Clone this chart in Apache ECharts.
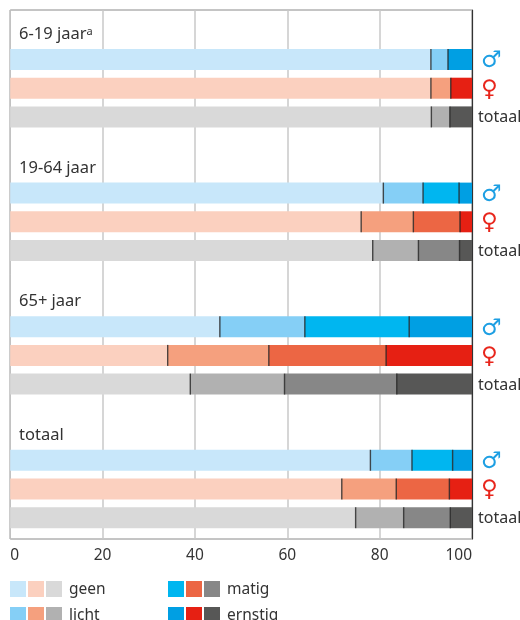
<!DOCTYPE html>
<html><head><meta charset="utf-8">
<style>html,body{margin:0;padding:0;background:#fff;overflow:hidden}#c{width:520px;height:620px}</style>
<script src="https://cdn.jsdelivr.net/npm/echarts@6/dist/echarts.min.js"></script>
</head><body><div id="c"></div>
<script>
const groups = ['6-19 jaar{sup|a}', '19-64 jaar', '65+ jaar', 'totaal'];
const rows = ['man', 'vrouw', 'totaal'];
const severities = ['geen', 'licht', 'matig', 'ernstig'];
const tickValues = [0, 20, 40, 60, 80, 100];

// values per group: [geen, licht, matig, ernstig] for man, vrouw, totaal
const group1 = [[91.1, 3.7, 0, 5.2], [91.1, 4.3, 0, 4.6], [91.2, 4.0, 0, 4.8]];
const group2 = [[80.8, 8.6, 7.8, 2.8], [76.0, 11.3, 10.1, 2.6], [78.5, 9.9, 8.9, 2.7]];
const group3 = [[45.4, 18.4, 22.6, 13.6], [34.1, 21.9, 25.4, 18.6], [39.0, 20.4, 24.3, 16.3]];
const group4 = [[78.0, 9.0, 8.8, 4.2], [71.8, 11.8, 11.5, 4.9], [74.8, 10.4, 10.1, 4.7]];
const groupValues = [group1, group2, group3, group4];

const blues = ['#c8e7fa', '#85cff6', '#00b6f0', '#009fe3'];
const reds = ['#fbd0bf', '#f5a07e', '#ec6644', '#e62013'];
const grays = ['#d9d9d9', '#b1b1b1', '#878787', '#575756'];
const palettes = [blues, reds, grays];

const FONT = '"Noto Sans", sans-serif';
const TXT = '#333';
const L = 10.2, W = 461.8, BAR = 21, PITCH = 28.7, FIRST = 49, STEP = 133.6;

const grid = [{left: L, width: W, top: 10, height: 529, outerBoundsMode: 'none', show: true, borderColor: '#8a8a8a', borderWidth: 1, backgroundColor: 'transparent'}];
const xAxis = [{
  gridIndex: 0, type: 'value', min: 0, max: 100, interval: 20,
  axisLine: {show: false}, axisTick: {show: false},
  axisLabel: {fontFamily: FONT, fontSize: 15.5, color: TXT, margin: 9, alignMinLabel: 'left', alignMaxLabel: 'right',
    customValues: tickValues},
  splitLine: {show: true, lineStyle: {color: '#c9c9c9', width: 1.5}}
}];
const yAxis = [{
  gridIndex: 0, type: 'value', position: 'right', min: 0, max: 1,
  axisLine: {show: true, onZero: false, lineStyle: {color: '#333', width: 1.2}},
  axisTick: {show: false}, axisLabel: {show: false}, splitLine: {show: false}
}];
const series = [];
const title = [];

groups.forEach((g, gi) => {
  const idx = gi + 1;
  const barTop = FIRST + gi * STEP;
  grid.push({left: L, width: W, top: barTop - (PITCH - BAR) / 2, height: PITCH * 3, outerBoundsMode: 'none'});
  xAxis.push({gridIndex: idx, type: 'value', min: 0, max: 100, show: false});
  yAxis.push({
    gridIndex: idx, type: 'category', data: rows, inverse: true, position: 'right',
    axisLine: {show: false}, axisTick: {show: false}, splitLine: {show: false},
    axisLabel: {
      interval: 0, align: 'left', margin: 6, fontFamily: FONT, fontSize: 16, color: TXT,
      formatter: v => v === 'man' ? '{m|\u2642}' : v === 'vrouw' ? '{f|\u2640}' : '{t|totaal}',
      rich: {
        m: {fontFamily: 'DejaVu Sans', fontSize: 23, color: '#1d9fe3', padding: [4, 0, 0, 3]},
        f: {fontFamily: 'DejaVu Sans', fontSize: 23, color: '#e8261c', padding: [3, 0, 0, 3]},
        t: {fontFamily: FONT, fontSize: 16, color: TXT, padding: [2, 0, 0, 0]}
      }
    }
  });
  title.push({
    text: g, left: 19, top: barTop - 23, padding: 0,
    textStyle: {fontFamily: FONT, fontSize: 16.5, fontWeight: 'normal', color: TXT,
      rich: {sup: {fontFamily: FONT, fontSize: 11, color: TXT, verticalAlign: 'top', padding: [0, 0, 6, 0]}}}
  });
  const table = groupValues[gi];
  severities.forEach((s, si) => {
    series.push({
      name: g + ' ' + s, type: 'bar', xAxisIndex: idx, yAxisIndex: idx, stack: 'g' + gi,
      barWidth: BAR, silent: true,
      data: table.map((r, ri) => ({value: r[si], itemStyle: {color: palettes[ri][si]}}))
    });
  });
  // dark separators at the end of each non-final, non-empty segment
  const seps = [];
  table.forEach((r, ri) => {
    let sum = 0;
    r.forEach((v, si) => {
      sum += v;
      if (v > 0 && si < r.length - 1) seps.push([sum, ri]);
    });
  });
  series.push({
    type: 'scatter', xAxisIndex: idx, yAxisIndex: idx, data: seps, silent: true, z: 5,
    symbol: 'rect', symbolSize: [1.4, BAR], itemStyle: {color: '#222', opacity: 0.8}
  });
});

// legend: three swatches per level
const graphic = [];
const legendCols = [10, 168], legendRows = [581, 607];
severities.forEach((s, si) => {
  const x0 = legendCols[si >> 1], y0 = legendRows[si % 2];
  palettes.forEach((p, pi) => graphic.push({
    type: 'rect', left: x0 + pi * 18, top: y0, shape: {width: 16, height: 16}, style: {fill: p[si]}
  }));
  graphic.push({
    type: 'text', left: x0 + 59, top: y0 + 1,
    style: {text: s, fontFamily: FONT, fontSize: 15.5, fill: TXT}
  });
});

const chart = echarts.init(document.getElementById('c'), null, {renderer: 'canvas'});
chart.setOption({animation: false, title, grid, xAxis, yAxis, series, graphic});
</script></body></html>
